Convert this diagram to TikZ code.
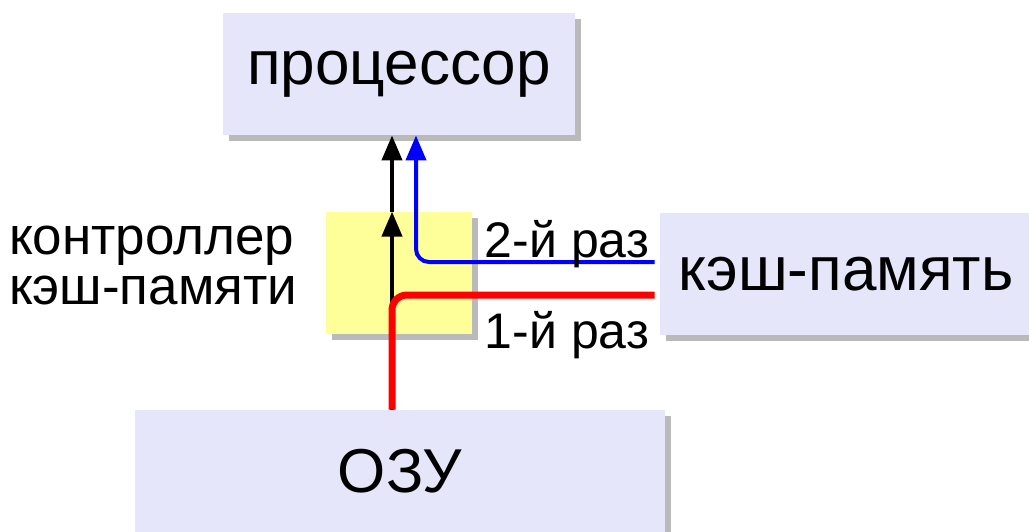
\documentclass[tikz,border=0pt]{standalone}
\usepackage{fontspec}
\setmainfont{Liberation Sans}
\usetikzlibrary{arrows.meta,positioning,shadows}

\begin{document}
\begin{tikzpicture}[x=0.5pt,y=-0.5pt,>={Triangle[length=12.5pt,width=10pt]},
                    font=\fontsize{31}{37}\selectfont]

  \definecolor{boxblue}{RGB}{230,230,250}
  \definecolor{boxyellow}{RGB}{255,255,153}
  \tikzstyle{block} = [fill=boxblue, inner sep=0pt, minimum height=61pt,
                       drop shadow={shadow xshift=3pt, shadow yshift=-3pt, fill=black!60, opacity=.45}]
  \tikzstyle{ctrlbox} = [block, fill=boxyellow, minimum width=73pt]
  \tikzstyle{note} = [font=\fontsize{25}{25}\selectfont, inner sep=0pt]

  \useasboundingbox (0,0) rectangle (1029,531);

  \node[block, minimum width=176pt] (cpu)   at (399,74)  {процессор};
  \node[ctrlbox]                     (ctrl)  at (399,273) {};
  \node[block, minimum width=186pt] (cache) at (846,274) {кэш-память};
  \node[block, minimum width=265pt] (ram)   at (400,471) {ОЗУ};
  \node[note, font=\fontsize{26.5}{25}\selectfont, align=left] (ctrlname)
       [left=14pt of ctrl, yshift=4pt] {контроллер\\кэш-памяти};

  % data paths
  \draw[->, line width=2pt] ([xshift=-4pt]ram.north) -- ([xshift=-3.5pt]ctrl.north);
  \draw[->, line width=2pt] ([xshift=-3.5pt]ctrl.north) -- ([xshift=-3.5pt]cpu.south);
  \draw[->, blue, line width=2pt, rounded corners=6.5pt]
        ([xshift=-2.5pt,yshift=6pt]cache.west) -| ([xshift=8.5pt]cpu.south);
  \draw[red, line width=3.5pt, rounded corners=7.5pt]
        ([xshift=-4pt]ram.north) |- ([xshift=-2.5pt,yshift=-10.5pt]cache.west);

  \node[note, anchor=base east] (second) at ([xshift=-5pt,yshift=8.5pt]cache.west) {2-й раз};
  \node[note, anchor=base east] (first)  at ([xshift=-5pt,yshift=-37pt]cache.west) {1-й раз};

\end{tikzpicture}
\end{document}
